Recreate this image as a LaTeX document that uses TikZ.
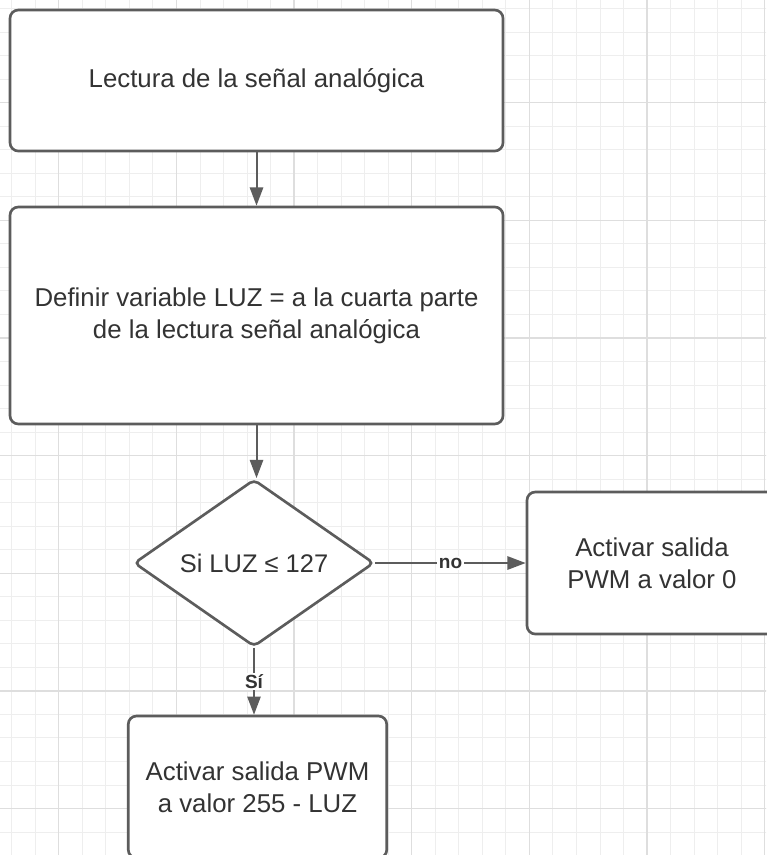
\documentclass[tikz,border=0pt]{standalone}
\usepackage{fontspec}
\setmainfont{Liberation Sans}
\usepackage{tikz}
\usetikzlibrary{shapes.geometric}
\usetikzlibrary{arrows.meta}

\definecolor{lineGray}{HTML}{5C5C5C}
\definecolor{textGray}{HTML}{333333}
\definecolor{gridMinor}{HTML}{EEEEEE}
\definecolor{gridMajor}{HTML}{DEDEDE}

\begin{document}
\begin{tikzpicture}[
		box/.style={draw=lineGray, line width=1.6pt, rounded corners=5pt, fill=white, text=textGray, align=center, inner sep=0pt, font=\fontsize{15.6}{19.4}\selectfont},
		decision/.style={diamond, draw=lineGray, line width=1.6pt, rounded corners=3pt, fill=white, text=textGray, inner sep=0pt, font=\fontsize{15.4}{19.4}\selectfont},
		flow/.style={->, >={Triangle[length=11pt,width=8pt]}, draw=lineGray, line width=1.2pt},
		lbl/.style={font=\bfseries\fontsize{11.5}{13}\selectfont, text=textGray, fill=white, inner sep=1pt}
	]
			
			% page and background grid
			\useasboundingbox[fill=white] (0,0) rectangle (16.2775,-18.16875);
			\begin{scope}
				\clip (0,0) rectangle (16.2775,-18.16875);
				\draw[gridMinor, line width=0.6pt, step=0.5cm, xshift=0.25cm, yshift=-0.182cm] (-1,-19) grid (17,1);
				\draw[gridMajor, line width=0.8pt, step=2.5cm, xshift=1.25cm, yshift=-2.182cm] (-2.5,-17.5) grid (17.5,2.5);
			\end{scope}
			
			% boxes
			\node[box, minimum width=10.476cm, minimum height=2.996cm] (lect) at (5.451,-1.711) {Lectura de la señal analógica};
			\node[box, minimum width=10.476cm, minimum height=4.611cm] (luz) at (5.451,-6.704) {Definir variable LUZ = a la cuarta parte\\de la lectura señal analógica};
			\node[decision, minimum width=5.1cm, minimum height=3.4cm] (cond) at (5.3975,-11.964) {Si LUZ ≤ 127};
			\node[box, minimum width=5.3125cm, minimum height=3.0175cm] (pwmCero) at (13.855,-11.964) {Activar salida\\PWM a valor 0};
			\node[box, minimum width=5.493cm, minimum height=3.0175cm] (pwmLuz) at (5.472,-16.724) {Activar salida PWM\\a valor 255 - LUZ};
			
			% connectors
			\draw[flow] (lect.south) -- (luz.north);
			\draw[flow] (luz.south) -- (luz.south |- cond.north);
			\draw[flow] (cond.east) -- node[lbl] {no} (pwmCero.west);
			\draw[flow] (cond.south) -- node[lbl] {Sí} (cond.south |- pwmLuz.north);
			
		\end{tikzpicture}
\end{document}
